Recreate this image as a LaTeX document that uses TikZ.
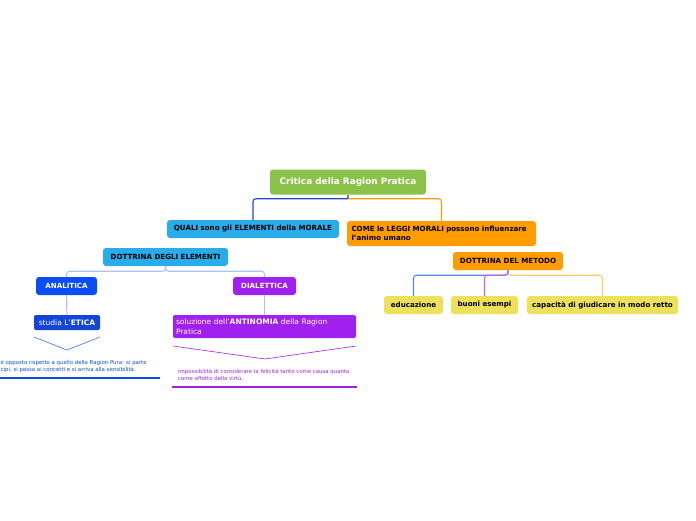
\documentclass[tikz,border=0pt]{standalone}
\usepackage{fontspec}
\setmainfont{DejaVu Sans}
\usepackage{tikz}
\usetikzlibrary{positioning,calc}

\definecolor{rootgreen}{HTML}{8BC34A}
\definecolor{skyblue}{HTML}{29ACEA}
\definecolor{deeporange}{HTML}{FF9C00}
\definecolor{royal}{HTML}{0A4CF5}
\definecolor{violet}{HTML}{A020F0}
\definecolor{navyb}{HTML}{1346D8}
\definecolor{mustard}{HTML}{EDE15B}
\definecolor{paleblue}{HTML}{A8C4F4}
\definecolor{lineblue}{HTML}{1D48D0}
\definecolor{midblue}{HTML}{5585F5}
\definecolor{lilac}{HTML}{B868F5}
\definecolor{peach}{HTML}{FFC870}

\begin{document}
\begin{tikzpicture}[x=1pt, y=-1pt, every node/.style={font=\fontsize{7.1}{9.2}\selectfont\bfseries},
  b/.style={rounded corners=3pt, inner sep=0pt, minimum height=18pt},
  r/.style={b, fill=rootgreen, text=white, minimum height=25pt, font=\fontsize{8.9}{10}\selectfont\bfseries},
  c/.style={b, fill=skyblue}, o/.style={b, fill=deeporange},
  a/.style={b, fill=royal, text=white}, p/.style={b, fill=violet, text=white},
  yel/.style={b, fill=mustard},
  sub/.style={rounded corners=2pt, inner sep=0pt, text=white, font=\fontsize{7.5}{9.5}\selectfont},
  note/.style={inner sep=0pt, align=left, font=\fontsize{5.4}{7.3}\selectfont},
  ln/.style={line width=1.1pt, rounded corners=3pt}]
  \useasboundingbox (0,0) rectangle (696,520);
  % main topic and the two questions
  \node[r, minimum width=156pt] (root) at (348,182) {Critica della Ragion Pratica};
  \node[c, minimum width=172pt] (quali) at (253,229) {QUALI sono gli ELEMENTI della MORALE};
  \node[o, minimum width=189pt, minimum height=25pt, inner xsep=4.5pt, text width=180pt, align=left] (come)
    at (441.5,233.5) {COME le LEGGI MORALI possono influenzare\\l'animo umano};
  \draw[gray, line width=1.1pt] (root.south) -- ++(0,4) coordinate (rj);
  \draw[ln, lineblue] (rj) -| (quali.north);
  \draw[ln, deeporange] (rj) -| (come.north);
  % left branch: dottrina degli elementi
  \node[c, minimum width=125pt] (elem) at (165.5,257) {DOTTRINA DEGLI ELEMENTI};
  \node[a, minimum width=61pt] (anal) at (66.5,286) {ANALITICA};
  \node[p, minimum width=63pt] (dial) at (264.5,286) {DIALETTICA};
  \draw[ln, paleblue] (elem.south) -- ++(0,5) -| (anal.north);
  \draw[ln, paleblue] (elem.south) -- ++(0,5) -| (dial.north);
  \node[sub, fill=navyb, minimum width=66pt, minimum height=15pt] (etica) at (67,322.5)
    {studia L'\textbf{ETICA}};
  \node[sub, fill=violet, minimum width=183pt, minimum height=23pt, text width=177pt, align=left] (anti)
    at (264.5,326.5) {soluzione dell'\textbf{ANTINOMIA} della Ragion\\Pratica};
  \draw[ln, paleblue] (anal) -- (etica);
  \draw[ln, paleblue] (dial) -- (anti);
  % notes under the two boxes
  \draw[royal!80, line width=0.6pt] (34,337) -- (67,350) -- (100,337);
  \node[note, text=royal, anchor=north west] (proc) at (0.5,360)
    {è opposto rispetto a quello della Ragion Pura: si parte\\cipi, si passa ai concetti e si arriva alla sensibilità.};
  \draw[royal, line width=2pt] (0,378) -- (160,378);
  \draw[violet, line width=0.6pt] (173,346) -- (265,359) -- (356,346);
  \node[note, text=violet, anchor=north west] (fel) at (178,369)
    {impossibilità di considerare la felicità tanto come causa quanto\\come effetto della virtù.};
  \draw[violet, line width=2pt] (172,386.5) -- (357,386.5);
  % right branch: dottrina del metodo
  \node[o, minimum width=110pt] (meto) at (508,261) {DOTTRINA DEL METODO};
  \node[yel, minimum width=59pt] (edu) at (413.5,305) {educazione};
  \node[yel, minimum width=67pt] (buoni) at (484.5,305) {buoni esempi};
  \node[yel, minimum width=151pt] (giud) at (602.5,305) {capacità di giudicare in modo retto};
  \draw[ln, peach] (meto.south) -- ++(0,5) -| (giud.north);
  \draw[ln, midblue] (meto.south) -- ++(0,5) -| (edu.north);
  \draw[ln, lilac] (meto.south) -- ++(0,5) -| (buoni.north);
\end{tikzpicture}
\end{document}
